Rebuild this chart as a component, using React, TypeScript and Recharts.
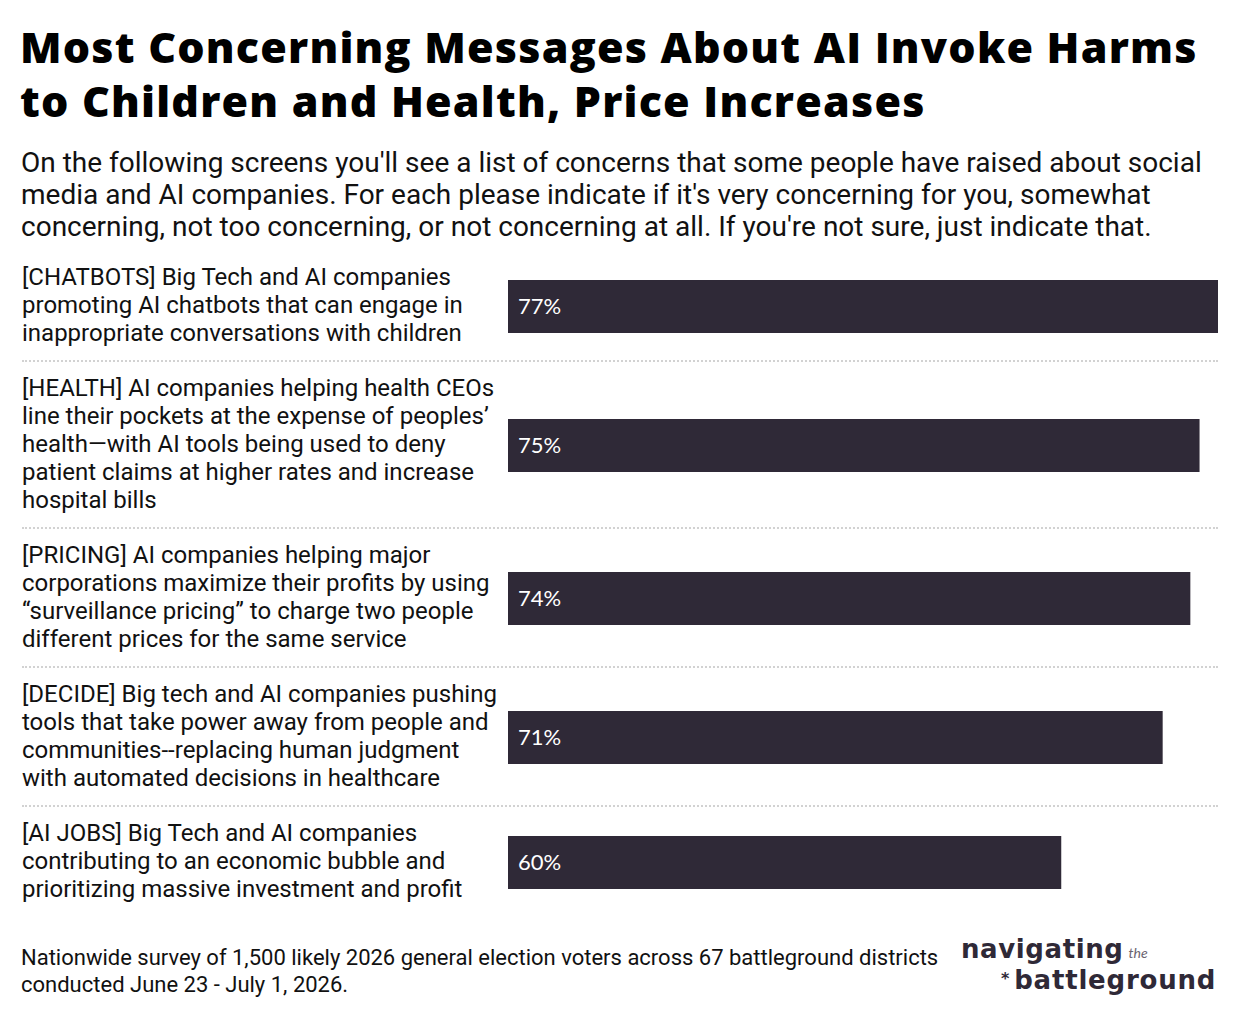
import * as React from "react";
import { Bar, BarChart, LabelList, XAxis, YAxis } from "recharts";

const categories = ["CHATBOTS", "HEALTH", "PRICING", "DECIDE", "AI JOBS"];

const labelLines = [
  [
    "[CHATBOTS] Big Tech and AI companies",
    "promoting AI chatbots that can engage in",
    "inappropriate conversations with children",
  ],
  [
    "[HEALTH] AI companies helping health CEOs",
    "line their pockets at the expense of peoples\u2019",
    "health\u2014with AI tools being used to deny",
    "patient claims at higher rates and increase",
    "hospital bills",
  ],
  [
    "[PRICING] AI companies helping major",
    "corporations maximize their profits by using",
    "\u201csurveillance pricing\u201d to charge two people",
    "different prices for the same service",
  ],
  [
    "[DECIDE] Big tech and AI companies pushing",
    "tools that take power away from people and",
    "communities--replacing human judgment",
    "with automated decisions in healthcare",
  ],
  [
    "[AI JOBS] Big Tech and AI companies",
    "contributing to an economic bubble and",
    "prioritizing massive investment and profit",
  ],
];

const veryConcerning = [77, 75, 74, 71, 60];

const titleLines = [
  "Most Concerning Messages About AI Invoke Harms",
  "to Children and Health, Price Increases",
];

const subtitleLines = [
  "On the following screens you'll see a list of concerns that some people have raised about social",
  "media and AI companies. For each please indicate if it's very concerning for you, somewhat",
  "concerning, not too concerning, or not concerning at all. If you're not sure, just indicate that.",
];

const noteLines = [
  "Nationwide survey of 1,500 likely 2026 general election voters across 67 battleground districts",
  "conducted June 23 - July 1, 2026.",
];

const BAR_COLOR = "#2f2937";
const LINE_H = 28;
const ROW_PAD = 27;
const X_MAX = 77;

function Row({ index }: { index: number }) {
  const lines = labelLines[index];
  const h = lines.length * LINE_H + ROW_PAD;
  const data = [{ name: categories[index], value: veryConcerning[index] }];
  const last = index === categories.length - 1;
  return (
    <div
      style={{
        position: "relative",
        height: h,
        borderBottom: last ? "none" : "2px dotted #d2d2d2",
        boxSizing: "border-box",
      }}
    >
      <div
        style={{
          position: "absolute",
          left: 0,
          top: 12,
          fontFamily: "Roboto",
          fontSize: 24,
          lineHeight: `${LINE_H}px`,
          color: "#111",
          whiteSpace: "nowrap",
        }}
      >
        {lines.map((l) => (
          <div key={l}>{l}</div>
        ))}
      </div>
      <div style={{ position: "absolute", left: 486, top: 0 }}>
        <BarChart
          width={710}
          height={h}
          data={data}
          layout="vertical"
          margin={{ top: 0, right: 0, bottom: 0, left: 0 }}
        >
          <XAxis type="number" domain={[0, X_MAX]} hide />
          <YAxis type="category" dataKey="name" hide />
          <Bar dataKey="value" fill={BAR_COLOR} barSize={53} isAnimationActive={false}>
            <LabelList
              dataKey="value"
              position="insideLeft"
              offset={10}
              fill="#fff"
              fontFamily="Lato"
              fontSize={22}
              formatter={(v: any) => `${v}%`}
            />
          </Bar>
        </BarChart>
      </div>
    </div>
  );
}

export default function App() {
  return (
    <div
      style={{
        position: "absolute",
        left: 0,
        top: 0,
        width: 1240,
        height: 1020,
        background: "#fff",
        overflow: "hidden",
      }}
    >
      <div
        style={{
          position: "absolute",
          left: 20,
          top: 20,
          fontFamily: "'Open Sans'",
          fontWeight: 800,
          fontSize: 43,
          letterSpacing: 1.2,
          lineHeight: "54px",
          color: "#000",
          whiteSpace: "nowrap",
        }}
      >
        {titleLines.map((l) => (
          <div key={l}>{l}</div>
        ))}
      </div>
      <div
        style={{
          position: "absolute",
          left: 21,
          top: 147,
          fontFamily: "Roboto",
          fontSize: 28,
          lineHeight: "32px",
          color: "#111",
          whiteSpace: "nowrap",
        }}
      >
        {subtitleLines.map((l) => (
          <div key={l}>{l}</div>
        ))}
      </div>
      <div style={{ position: "absolute", left: 22, top: 251, width: 1196 }}>
        {categories.map((c, i) => (
          <Row key={c} index={i} />
        ))}
      </div>
      <div
        style={{
          position: "absolute",
          left: 21,
          top: 944,
          fontFamily: "Roboto",
          fontSize: 22,
          lineHeight: "27px",
          color: "#111",
          whiteSpace: "nowrap",
        }}
      >
        {noteLines.map((l) => (
          <div key={l}>{l}</div>
        ))}
      </div>
      <div
        style={{
          position: "absolute",
          left: 961,
          top: 934,
          fontFamily: "'DejaVu Sans'",
          fontWeight: 700,
          color: BAR_COLOR,
          whiteSpace: "nowrap",
        }}
      >
        <div style={{ fontSize: 26, height: 31, lineHeight: "31px", letterSpacing: 0.6 }}>
          navigating
          <span
            style={{
              fontFamily: "Lato",
              fontStyle: "italic",
              fontWeight: 400,
              fontSize: 14,
              letterSpacing: 0,
              marginLeft: 5,
              color: "#6b6470",
            }}
          >
            the
          </span>
        </div>
        <div style={{ fontSize: 26, height: 31, lineHeight: "31px", letterSpacing: 0.8 }}>
          <span
            style={{
              fontSize: 16,
              marginLeft: 40,
              marginRight: 4,
              position: "relative",
              top: -5,
            }}
          >
            *
          </span>
          battleground
        </div>
      </div>
    </div>
  );
}
